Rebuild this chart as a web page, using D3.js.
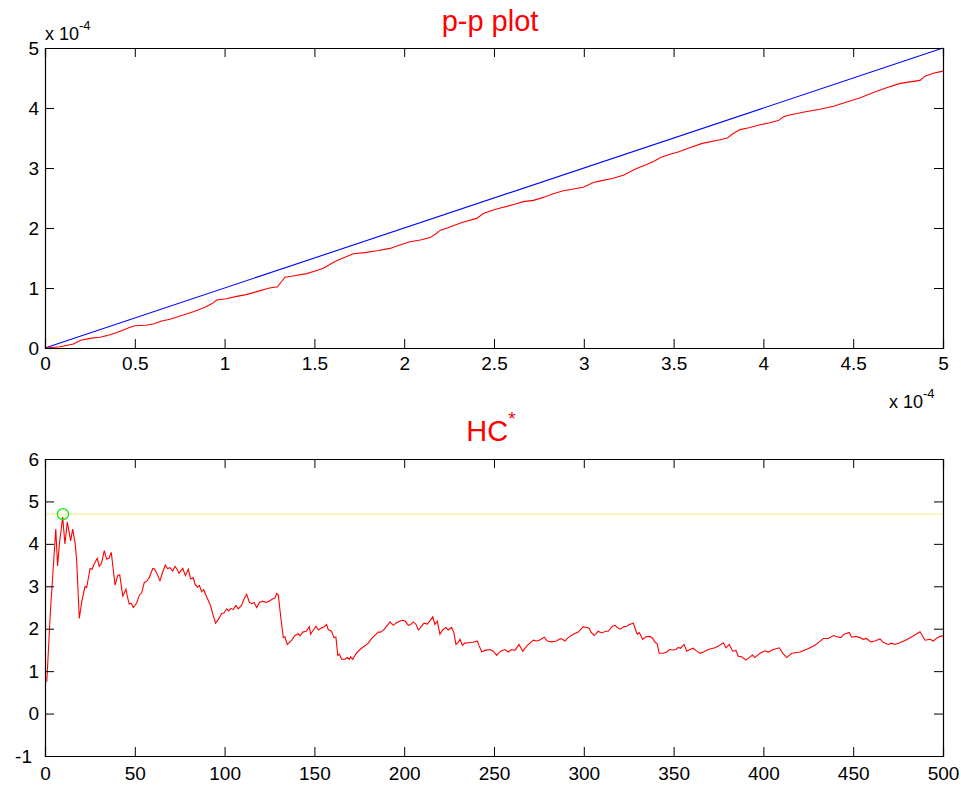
<!DOCTYPE html>
<html>
<head>
<meta charset="utf-8">
<script src="https://cdn.jsdelivr.net/npm/d3@7"></script>
<style>
  body { margin: 0; background: #fff; }
  text { font-family: Arial, "Liberation Sans", sans-serif; }
</style>
</head>
<body>
<div id="chart"></div>
<script>
// p-p plot values, in units of 1e-4
var ppX = [0, 0.084, 0.158, 0.199, 0.25, 0.306, 0.362, 0.40, 0.436, 0.47, 0.501, 0.56, 0.603, 0.65, 0.696, 0.770, 0.83, 0.891, 0.93, 0.956,
  1.01, 1.067, 1.12, 1.179, 1.25, 1.294, 1.315, 1.336, 1.38, 1.457, 1.50, 1.550, 1.59, 1.615, 1.643, 1.717, 1.78, 1.847, 1.921, 1.98,
  2.032, 2.09, 2.144, 2.175, 2.199, 2.24, 2.283, 2.33, 2.404, 2.44, 2.496, 2.53, 2.571, 2.62, 2.663, 2.72, 2.774, 2.83, 2.886, 2.997,
  3.053, 3.10, 3.164, 3.22, 3.294, 3.35, 3.396, 3.43, 3.480, 3.53, 3.582, 3.66, 3.758, 3.80, 3.83, 3.870, 3.92, 3.981, 4.03, 4.083,
  4.11, 4.139, 4.22, 4.315, 4.39, 4.464, 4.54, 4.612, 4.69, 4.761, 4.872, 4.90, 4.946, 4.993, 5.0];
var ppY = [0, 0.02, 0.067, 0.13, 0.16, 0.18, 0.22, 0.26, 0.30, 0.34, 0.37, 0.38, 0.40, 0.45, 0.48, 0.55, 0.61, 0.68, 0.74, 0.80,
  0.82, 0.86, 0.89, 0.94, 1.00, 1.02, 1.10, 1.18, 1.20, 1.24, 1.28, 1.33, 1.40, 1.44, 1.48, 1.57, 1.59, 1.62, 1.66, 1.72,
  1.77, 1.80, 1.84, 1.90, 1.96, 2.00, 2.05, 2.10, 2.16, 2.24, 2.30, 2.33, 2.36, 2.40, 2.44, 2.46, 2.51, 2.57, 2.62, 2.68,
  2.76, 2.79, 2.83, 2.88, 2.99, 3.06, 3.12, 3.18, 3.23, 3.27, 3.33, 3.41, 3.47, 3.50, 3.57, 3.64, 3.67, 3.72, 3.75, 3.79,
  3.85, 3.88, 3.93, 3.98, 4.03, 4.10, 4.17, 4.26, 4.34, 4.41, 4.46, 4.53, 4.58, 4.61, 4.62];
var ppDiag = [0, 5];
var ppTicks = [0, 0.5, 1, 1.5, 2, 2.5, 3, 3.5, 4, 4.5, 5];
var ppYTicks = [0, 1, 2, 3, 4, 5];

// HC* values
var hcIdx = [1, 3, 6, 7, 8, 9.85, 11.1, 12.4, 14.3, 15.4, 16.7, 17.6, 19.1, 20.4, 22.3, 23.2, 25.1, 26.2, 27.3, 29.1,
  30.2, 31.5, 33.0, 34.3, 35.6, 36.9, 39.0, 40.5, 41.6, 43.3, 45.1, 46.0, 46.9, 48.0, 49.2, 51.0, 52.5, 53.8, 55.3, 56.7,
  58.1, 60.0, 61.0, 62.2, 64.0, 65.5, 67.0, 68.2, 69.6, 71.1, 72.4, 73.5, 74.6, 76.7, 78.2, 79.8, 81.1, 82.6, 83.5, 84.9,
  86.0, 87.2, 88.4, 89.6, 91.0, 92.2, 93.3, 95.0, 96.5, 98.4, 99.7, 101.1, 102.3, 103.4, 104.8, 106.3, 107.6, 109.4, 110.8, 112.3,
  113.8, 115.1, 116.4, 117.9, 119.4, 121.2, 123.0, 124.9, 126.6, 128.1, 129.0, 129.9, 131.2, 132.7, 133.6, 134.9, 137.4, 139.2, 141.0, 142.0,
  143.5, 145.4, 147.2, 147.9, 149.4, 150.9, 152.2, 154.0, 155.3, 156.8, 157.7, 159.5, 160.9, 162.0, 163.0, 163.9, 165.2, 167.1, 168.4, 169.5,
  170.2, 171.3, 173.5, 175.4, 177.6, 180.0, 181.9, 183.8, 185.6, 186.9, 188.7, 190.6, 192.1, 193.9, 195.7, 197.7, 199.2, 200.5, 202.3, 203.6,
  205.1, 206.6, 207.9, 209.7, 211.0, 212.9, 214.4, 215.9, 217.1, 218.4, 219.9, 221.4, 223.2, 224.5, 226.4, 227.7, 228.8, 230.1, 231.1, 232.4,
  233.8, 235.7, 238.4, 240.7, 241.8, 243.2, 245.0, 247.8, 249.6, 251.5, 253.7, 256.1, 258.0, 259.8, 261.7, 263.9, 266.0, 268.2, 271.9, 273.8,
  275.2, 278.0, 279.6, 282.0, 284.8, 286.7, 287.6, 289.5, 291.3, 294.1, 296.9, 299.7, 301.6, 303.0, 304.0, 305.8, 308.0, 309.9, 312.3, 313.6,
  315.9, 317.4, 318.7, 320.2, 322.4, 323.9, 325.4, 327.6, 328.5, 329.8, 330.9, 332.8, 334.6, 336.9, 338.4, 339.7, 340.8, 342.0, 344.2, 346.1,
  347.9, 349.8, 351.3, 352.6, 353.9, 355.8, 357.3, 359.1, 360.9, 362.4, 364.7, 366.6, 369.3, 373.0, 374.9, 377.7, 379.2, 381.0, 382.9, 384.7,
  386.0, 387.9, 390.3, 392.1, 393.9, 395.2, 398.1, 400.9, 402.7, 405.5, 408.9, 410.8, 413.0, 415.8, 420.4, 423.8, 426.0, 428.7, 431.5, 433.4,
  436.2, 439.0, 441.2, 443.1, 444.9, 447.8, 449.1, 451.5, 453.7, 455.6, 457.4, 459.7, 462.1, 464.9, 466.7, 469.5, 471.3, 473.2, 476.0, 479.7,
  483.4, 487.2, 490.0, 492.8, 494.6, 496.8, 499.3, 500];
var hcVal = [0.75, 2.4, 4.35, 3.48, 4.0, 4.63, 4.0, 4.52, 4.07, 4.35, 4.04, 3.64, 2.24, 2.62, 3.0, 2.97, 3.42, 3.40, 3.52, 3.66,
  3.47, 3.55, 3.84, 3.64, 3.66, 3.80, 3.03, 3.25, 3.27, 2.77, 2.93, 2.73, 2.58, 2.60, 2.50, 2.60, 2.79, 2.84, 3.09, 3.12,
  3.21, 3.42, 3.41, 3.31, 3.13, 3.33, 3.50, 3.42, 3.44, 3.36, 3.47, 3.40, 3.31, 3.42, 3.25, 3.40, 3.17, 3.20, 3.05, 2.98,
  3.02, 2.87, 2.92, 2.79, 2.66, 2.54, 2.36, 2.13, 2.22, 2.36, 2.37, 2.47, 2.42, 2.48, 2.45, 2.55, 2.47, 2.55, 2.70, 2.81,
  2.62, 2.59, 2.62, 2.50, 2.62, 2.65, 2.62, 2.65, 2.70, 2.73, 2.83, 2.80, 2.30, 1.79, 1.81, 1.63, 1.73, 1.84, 1.88, 1.83,
  1.92, 1.94, 2.05, 1.87, 1.97, 2.06, 1.97, 2.02, 2.04, 2.10, 1.98, 1.94, 1.79, 1.80, 1.37, 1.40, 1.28, 1.28, 1.32, 1.28,
  1.34, 1.28, 1.43, 1.51, 1.58, 1.66, 1.77, 1.85, 1.92, 1.92, 1.98, 2.08, 2.16, 2.08, 2.14, 2.18, 2.20, 2.18, 2.08, 2.10,
  2.16, 2.10, 1.97, 2.06, 2.13, 2.11, 2.19, 2.28, 2.10, 2.18, 1.87, 1.97, 2.03, 1.97, 2.03, 1.90, 1.63, 1.68, 1.75, 1.61,
  1.66, 1.67, 1.68, 1.71, 1.59, 1.45, 1.49, 1.51, 1.47, 1.37, 1.47, 1.51, 1.45, 1.51, 1.49, 1.63, 1.47, 1.59, 1.73, 1.71,
  1.73, 1.80, 1.71, 1.69, 1.71, 1.76, 1.76, 1.71, 1.79, 1.87, 1.92, 2.05, 2.03, 2.01, 1.92, 1.84, 1.94, 1.90, 1.94, 1.94,
  2.06, 2.08, 2.03, 1.99, 2.05, 2.06, 2.10, 2.13, 2.01, 1.87, 1.91, 1.75, 1.81, 1.82, 1.77, 1.68, 1.65, 1.42, 1.42, 1.45,
  1.51, 1.50, 1.51, 1.56, 1.54, 1.63, 1.47, 1.51, 1.54, 1.49, 1.42, 1.45, 1.51, 1.55, 1.59, 1.67, 1.55, 1.63, 1.47, 1.49,
  1.35, 1.34, 1.26, 1.32, 1.38, 1.32, 1.42, 1.48, 1.45, 1.51, 1.55, 1.42, 1.32, 1.42, 1.45, 1.51, 1.55, 1.61, 1.70, 1.77,
  1.77, 1.84, 1.81, 1.79, 1.87, 1.91, 1.80, 1.82, 1.79, 1.75, 1.77, 1.69, 1.71, 1.76, 1.68, 1.63, 1.66, 1.63, 1.67, 1.74,
  1.83, 1.93, 1.73, 1.75, 1.71, 1.79, 1.83, 1.82];
var hcMaxIdx = 10;
var hcMax = 4.70;
var hcXTicks = [0, 50, 100, 150, 200, 250, 300, 350, 400, 450, 500];
var hcYTicks = [-1, 0, 1, 2, 3, 4, 5, 6];

var svgWidth = 961;
var svgHeight = 788;
var tickLen = 9;
var labelSize = "19px";

var svg = d3.select("#chart")
  .append("svg")
  .attr("width", svgWidth)
  .attr("height", svgHeight)
  .style("display", "block");

svg.append("rect").attr("width", svgWidth).attr("height", svgHeight).attr("fill", "#fff");

// plain hyphen labels, like matlab
var plainFmt = d => String(d);

// draws a matlab style box with inward ticks on all four sides
function drawBox(x, y, xTicks, yTicks, xPad) {
  var g = svg.append("g");
  var x0 = x.range()[0], x1 = x.range()[1];
  var y0 = y.range()[0], y1 = y.range()[1];

  g.append("g").attr("transform", `translate(0,${y0})`)
    .call(d3.axisBottom(x).tickValues(xTicks).tickSize(-tickLen).tickPadding(xPad).tickFormat(plainFmt));
  g.append("g").attr("transform", `translate(0,${y1})`)
    .call(d3.axisTop(x).tickValues(xTicks).tickSize(-tickLen).tickFormat(""));
  g.append("g").attr("class", "yleft").attr("transform", `translate(${x0},0)`)
    .call(d3.axisLeft(y).tickValues(yTicks).tickSize(-tickLen).tickPadding(6).tickFormat(plainFmt));
  g.append("g").attr("transform", `translate(${x1},0)`)
    .call(d3.axisRight(y).tickValues(yTicks).tickSize(-tickLen).tickFormat(""));

  g.selectAll(".domain").attr("stroke", "#000").attr("stroke-width", 1.2);
  g.selectAll(".tick line").attr("stroke", "#000").attr("stroke-width", 1);
  g.selectAll(".tick text")
    .attr("font-size", labelSize)
    .attr("font-family", "Arial, 'Liberation Sans', sans-serif")
    .attr("fill", "#000");
  return g;
}

// ---- top: p-p plot ----
var xPP = d3.scaleLinear().domain([0, 5]).range([45, 943]);
var yPP = d3.scaleLinear().domain([0, 5]).range([348, 48]);

svg.append("path")
  .datum(ppDiag)
  .attr("fill", "none")
  .attr("stroke", "#0000ff")
  .attr("stroke-width", 1.1)
  .attr("d", d3.line().x(d => xPP(d)).y(d => yPP(d)));

svg.append("path")
  .datum(ppX.map((d, i) => [d, ppY[i]]))
  .attr("fill", "none")
  .attr("stroke", "#ff0000")
  .attr("stroke-width", 1.1)
  .attr("d", d3.line().x(d => xPP(d[0])).y(d => yPP(d[1])));

drawBox(xPP, yPP, ppTicks, ppYTicks, 9);

function expLabel(x, y, exp) {
  var t = svg.append("text").attr("x", x).attr("y", y).attr("font-size", "18px").attr("fill", "#000");
  t.append("tspan").text("x 10");
  t.append("tspan").attr("dy", -10).attr("font-size", "13px").text(exp);
}
expLabel(45, 40, "-4");
expLabel(889, 408, "-4");

svg.append("text")
  .attr("x", 490).attr("y", 31)
  .attr("text-anchor", "middle")
  .attr("font-size", "29px")
  .attr("fill", "#ff0000")
  .text("p-p plot");

// ---- bottom: HC* ----
var xHC = d3.scaleLinear().domain([0, 500]).range([45, 943]);
var yHC = d3.scaleLinear().domain([-1, 6]).range([756, 459]);

svg.append("line")
  .attr("x1", xHC(0)).attr("x2", xHC(500))
  .attr("y1", yHC(hcMax)).attr("y2", yHC(hcMax))
  .attr("stroke", "#e8e860")
  .attr("stroke-width", 0.8);

svg.append("path")
  .datum(hcIdx.map((d, i) => [d, hcVal[i]]))
  .attr("fill", "none")
  .attr("stroke", "#ff0000")
  .attr("stroke-width", 1.1)
  .attr("d", d3.line().x(d => xHC(d[0])).y(d => yHC(d[1])));

svg.append("circle")
  .attr("cx", xHC(hcMaxIdx)).attr("cy", yHC(hcMax))
  .attr("r", 5.5)
  .attr("fill", "none")
  .attr("stroke", "#00ee00")
  .attr("stroke-width", 1.2);

var hcBox = drawBox(xHC, yHC, hcXTicks, hcYTicks, 11);
// the lowest y label sits a bit further left in the original
hcBox.selectAll(".yleft .tick text").filter(d => d === -1).attr("dx", -7);

var hcTitle = svg.append("text")
  .attr("x", 491).attr("y", 441)
  .attr("text-anchor", "middle")
  .attr("font-size", "29px")
  .attr("fill", "#ff0000");
hcTitle.append("tspan").text("HC");
hcTitle.append("tspan").attr("dy", -16).attr("font-size", "19px").text("*");
</script>
</body>
</html>
